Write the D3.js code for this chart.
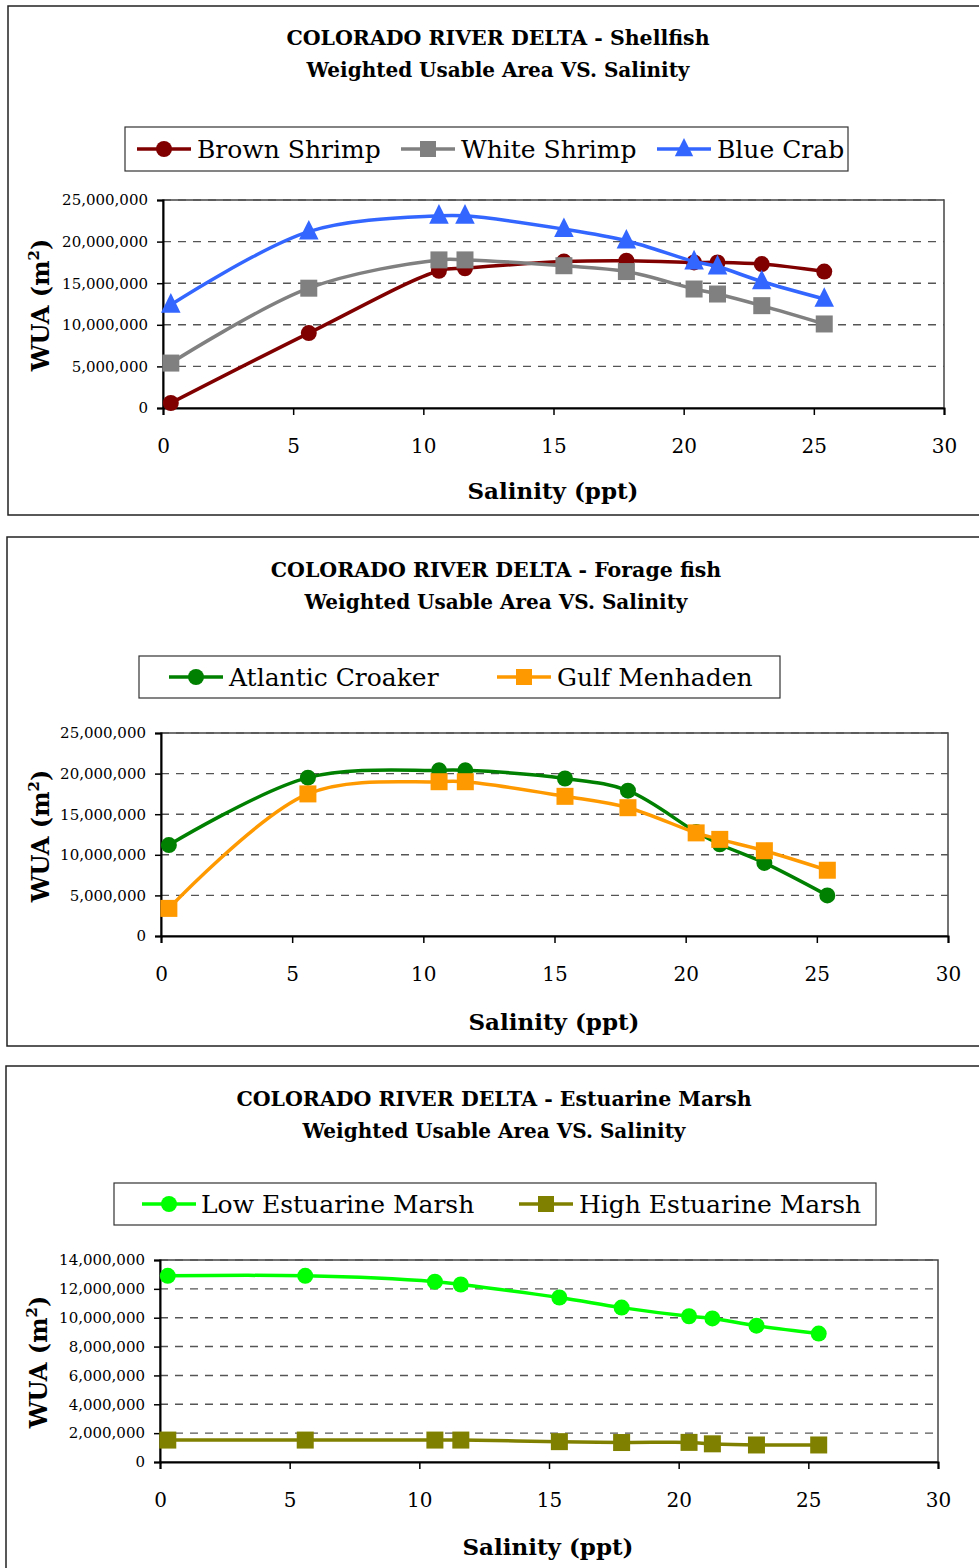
<!DOCTYPE html>
<html>
<head>
<meta charset="utf-8">
<script src="https://cdn.jsdelivr.net/npm/d3@7"></script>
<style>
  body { margin: 0; background: #fff; }
  svg { display: block; font-family: "DejaVu Serif", serif; }
</style>
</head>
<body>
<script>
// salinity (ppt) of each sampled station
var salinity = [0.3, 5.6, 10.6, 11.6, 15.4, 17.8, 20.4, 21.3, 23.0, 25.4];

// shellfish WUA (m2)
var brownShrimp = [0.6e6, 9.0e6, 16.5e6, 16.8e6, 17.6e6, 17.7e6, 17.5e6, 17.5e6, 17.3e6, 16.4e6];
var whiteShrimp = [5.4e6, 14.4e6, 17.8e6, 17.8e6, 17.1e6, 16.4e6, 14.3e6, 13.7e6, 12.3e6, 10.1e6];
var blueCrab = [12.4e6, 21.2e6, 23.1e6, 23.1e6, 21.5e6, 20.1e6, 17.6e6, 17.0e6, 15.2e6, 13.1e6];

// forage fish WUA (m2)
var atlanticCroaker = [11.2e6, 19.5e6, 20.4e6, 20.4e6, 19.4e6, 17.9e6, 12.8e6, 11.3e6, 9.0e6, 5.0e6];
var gulfMenhaden = [3.4e6, 17.5e6, 19.0e6, 19.0e6, 17.2e6, 15.8e6, 12.7e6, 11.9e6, 10.5e6, 8.1e6];

// estuarine marsh WUA (m2)
var lowMarsh = [12.9e6, 12.9e6, 12.5e6, 12.3e6, 11.4e6, 10.7e6, 10.1e6, 9.95e6, 9.45e6, 8.9e6];
var highMarsh = [1.52e6, 1.52e6, 1.52e6, 1.52e6, 1.41e6, 1.35e6, 1.36e6, 1.26e6, 1.18e6, 1.18e6];

var xTicks = [0, 5, 10, 15, 20, 25, 30];
var yTicks1 = [0, 5e6, 10e6, 15e6, 20e6, 25e6];
var yTicks3 = [0, 2e6, 4e6, 6e6, 8e6, 10e6, 12e6, 14e6];

var panels = [
  {
    box: [8, 6, 990, 509],
    title: ["COLORADO RIVER DELTA - Shellfish", "Weighted Usable Area VS. Salinity"],
    titleY: [38, 70], titleX: 498,
    legendBox: [125, 127, 723, 44],
    legendX: [[137, 197], [401, 461], [657, 717]],
    plot: [163, 200, 944, 408],
    yTicks: yTicks1,
    yLabel: [40, 305], xLabel: [553, 490],
    series: [
      {name: "Brown Shrimp", values: brownShrimp, color: "#800000", marker: "circle"},
      {name: "White Shrimp", values: whiteShrimp, color: "#808080", marker: "square"},
      {name: "Blue Crab", values: blueCrab, color: "#3366ff", marker: "triangle"}
    ]
  },
  {
    box: [7, 537, 990, 509],
    title: ["COLORADO RIVER DELTA  - Forage fish", "Weighted Usable Area VS. Salinity"],
    titleY: [570, 602], titleX: 496,
    legendBox: [139, 656, 641, 42],
    legendX: [[169, 229], [497, 557]],
    plot: [161, 733, 948, 936],
    yTicks: yTicks1,
    yLabel: [40, 836], xLabel: [554, 1021],
    series: [
      {name: "Atlantic Croaker", values: atlanticCroaker, color: "#008000", marker: "circle"},
      {name: "Gulf Menhaden", values: gulfMenhaden, color: "#ff9900", marker: "square"}
    ]
  },
  {
    box: [6, 1066, 990, 540],
    title: ["COLORADO RIVER DELTA  - Estuarine Marsh", "Weighted Usable Area VS. Salinity"],
    titleY: [1099, 1131], titleX: 494,
    legendBox: [114, 1183, 762, 42],
    legendX: [[142, 201], [519, 579]],
    plot: [160, 1260, 938, 1462],
    yTicks: yTicks3,
    yLabel: [38, 1362], xLabel: [548, 1546],
    series: [
      {name: "Low Estuarine Marsh", values: lowMarsh, color: "#00ff00", marker: "circle"},
      {name: "High Estuarine Marsh", values: highMarsh, color: "#808000", marker: "square"}
    ]
  }
];

var svg = d3.select("body").append("svg")
    .attr("width", 979)
    .attr("height", 1568);

function drawMarker(g, type, x, y, color, size) {
    if (type == "circle") {
        g.append("circle").attr("cx", x).attr("cy", y).attr("r", size / 2).attr("fill", color);
    } else if (type == "square") {
        g.append("rect").attr("x", x - size / 2).attr("y", y - size / 2)
            .attr("width", size).attr("height", size).attr("fill", color);
    } else {
        var s = size * 1.15;
        g.append("path")
            .attr("d", "M" + x + "," + (y - s * 0.6) + "L" + (x + s / 2) + "," + (y + s * 0.4) + "L" + (x - s / 2) + "," + (y + s * 0.4) + "Z")
            .attr("fill", color);
    }
}

panels.forEach(function (p) {
    var g = svg.append("g");

    // outer frame
    g.append("rect")
        .attr("x", p.box[0]).attr("y", p.box[1])
        .attr("width", p.box[2]).attr("height", p.box[3])
        .attr("fill", "none").attr("stroke", "#222").attr("stroke-width", 1.5);

    // titles
    p.title.forEach(function (t, i) {
        g.append("text")
            .attr("x", p.titleX).attr("y", p.titleY[i] + 7)
            .attr("text-anchor", "middle")
            .style("font-size", i == 0 ? "20.5px" : "20px").style("font-weight", "bold")
            .text(t);
    });

    // legend
    var lb = p.legendBox;
    g.append("rect")
        .attr("x", lb[0]).attr("y", lb[1]).attr("width", lb[2]).attr("height", lb[3])
        .attr("fill", "#fff").attr("stroke", "#333").attr("stroke-width", 1.2);
    var ly = lb[1] + lb[3] / 2;
    p.series.forEach(function (s, i) {
        var lx = p.legendX[i];
        g.append("line")
            .attr("x1", lx[0]).attr("x2", lx[0] + 54)
            .attr("y1", ly).attr("y2", ly)
            .attr("stroke", s.color).attr("stroke-width", 3.5);
        drawMarker(g, s.marker, lx[0] + 27, ly, s.color, 16);
        g.append("text")
            .attr("x", lx[1]).attr("y", ly + 9)
            .style("font-size", "25px")
            .text(s.name);
    });

    var x = d3.scaleLinear().domain([0, 30]).range([p.plot[0], p.plot[2]]);
    var yMax = p.yTicks[p.yTicks.length - 1];
    var y = d3.scaleLinear().domain([0, yMax]).range([p.plot[3], p.plot[1]]);

    // plot frame
    g.append("rect")
        .attr("x", p.plot[0]).attr("y", p.plot[1])
        .attr("width", p.plot[2] - p.plot[0]).attr("height", p.plot[3] - p.plot[1])
        .attr("fill", "none").attr("stroke", "#444").attr("stroke-width", 1.5);

    // dashed gridlines
    g.selectAll(".grid")
        .data(p.yTicks.slice(1))
        .enter()
        .append("line")
        .attr("x1", p.plot[0]).attr("x2", p.plot[2])
        .attr("y1", function (d) { return y(d); })
        .attr("y2", function (d) { return y(d); })
        .attr("stroke", "#555").attr("stroke-width", 1.4)
        .attr("stroke-dasharray", "8,7");

    // axes
    var yAxis = g.append("g")
        .attr("transform", "translate(" + p.plot[0] + ",0)")
        .call(d3.axisLeft(y).tickValues(p.yTicks).tickSize(6).tickPadding(9)
            .tickFormat(d3.format(",")));
    yAxis.select(".domain").attr("stroke", "#000").attr("stroke-width", 2);
    yAxis.selectAll(".tick line").attr("stroke", "#000").attr("stroke-width", 1.5);
    yAxis.selectAll("text")
        .style("font-family", "DejaVu Serif, serif")
        .style("font-size", "15px").attr("fill", "#000");

    var xAxis = g.append("g")
        .attr("transform", "translate(0," + p.plot[3] + ")")
        .call(d3.axisBottom(x).tickValues(xTicks).tickSize(7).tickPadding(24));
    xAxis.select(".domain").attr("stroke", "#000").attr("stroke-width", 2);
    xAxis.selectAll(".tick line").attr("stroke", "#000").attr("stroke-width", 1.5);
    xAxis.selectAll("text")
        .style("font-family", "DejaVu Serif, serif")
        .style("font-size", "20px").attr("fill", "#000");

    // axis titles
    var yl = g.append("text")
        .attr("transform", "translate(" + (p.yLabel[0] + 9) + "," + p.yLabel[1] + ") rotate(-90)")
        .attr("text-anchor", "middle")
        .style("font-size", "24px").style("font-weight", "bold");
    yl.append("tspan").text("WUA (m");
    yl.append("tspan").attr("dy", -10).style("font-size", "15px").text("2");
    yl.append("tspan").attr("dy", 10).text(")");

    g.append("text")
        .attr("x", p.xLabel[0]).attr("y", p.xLabel[1] + 9)
        .attr("text-anchor", "middle")
        .style("font-size", "23px").style("font-weight", "bold")
        .text("Salinity (ppt)");

    // series lines and markers
    var line = d3.line()
        .x(function (d) { return x(d[0]); })
        .y(function (d) { return y(d[1]); })
        .curve(d3.curveCatmullRom.alpha(0.5));

    p.series.forEach(function (s) {
        var pts = salinity.map(function (v, i) { return [v, s.values[i]]; });
        g.append("path")
            .attr("d", line(pts))
            .attr("fill", "none")
            .attr("stroke", s.color)
            .attr("stroke-width", 3.5);
        var mg = g.append("g");
        pts.forEach(function (d) {
            drawMarker(mg, s.marker, x(d[0]), y(d[1]), s.color, s.marker == "circle" ? 16 : 17);
        });
    });
});
</script>
</body>
</html>
